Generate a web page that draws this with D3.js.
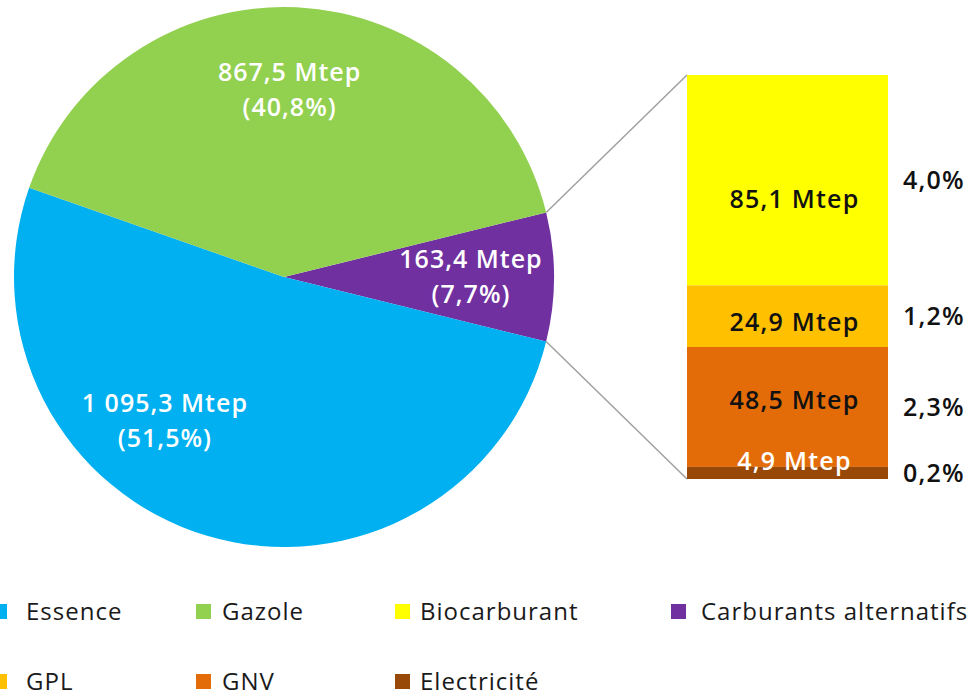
<!DOCTYPE html>
<html>
<head>
<meta charset="utf-8">
<script src="https://cdn.jsdelivr.net/npm/d3@7"></script>
<style>
  body { margin: 0; background: #fff; }
  svg { display: block; font-family: "Open Sans", sans-serif; }
</style>
</head>
<body>
<div id="chart"></div>
<script>
// pie : carburants alternatifs first so that it sits at 3 o'clock
var pieCategories = ["Carburants alternatifs", "Essence", "Gazole"];
var pieValues = [163.4, 1095.3, 867.5];

// detail of "carburants alternatifs", top to bottom
var barCategories = ["Biocarburant", "GPL", "GNV", "Electricité"];
var barValues = [85.1, 24.9, 48.5, 4.9];

var legendRow1 = ["Essence", "Gazole", "Biocarburant", "Carburants alternatifs"];
var legendRow2 = ["GPL", "GNV", "Electricité"];

var color = d3.scaleOrdinal()
    .domain(["Essence", "Gazole", "Biocarburant", "Carburants alternatifs", "GPL", "GNV", "Electricité"])
    .range(["#00b0f0", "#92d050", "#ffff00", "#7030a0", "#ffc000", "#e36c09", "#984807"]);

var fr = d3.formatLocale({ decimal: ",", thousands: " ", grouping: [3], currency: ["", " €"] });
var fmtVal = fr.format(",.1f"),
    fmtPct = fr.format(".1%");

function drawChart() {
    var width = 970, height = 700;
    var cx = 284, cy = 277, radius = 270;

    var svg = d3.select("#chart").append("svg")
        .attr("width", width)
        .attr("height", height);

    var total = d3.sum(pieValues);
    var start = Math.PI / 2 - pieValues[0] / total * Math.PI;

    var pie = d3.pie()
        .sort(null)
        .startAngle(start)
        .endAngle(start + 2 * Math.PI);
    var arcs = pie(pieValues);

    var arc = d3.arc().innerRadius(0).outerRadius(radius);

    function polar(a, r) {
        return [cx + r * Math.sin(a), cy - r * Math.cos(a)];
    }

    // bar of pie
    var barLeft = 687, barRight = 888, barTop = 75, barBottom = 479;
    var barTotal = d3.sum(barValues);
    var yBar = d3.scaleLinear().domain([0, barTotal]).range([barTop, barBottom]);
    var cum = Array.from(d3.cumsum(barValues));
    var barData = barValues.map(function (v, i) {
        return { cat: barCategories[i], value: v, y0: cum[i] - v, y1: cum[i] };
    });

    // connector lines
    var pA = polar(arcs[0].startAngle, radius),
        pB = polar(arcs[0].endAngle, radius);
    svg.append("line")
        .attr("x1", pA[0]).attr("y1", pA[1])
        .attr("x2", barLeft).attr("y2", yBar(0))
        .attr("stroke", "#a0a0a0").attr("stroke-width", 1.5);
    svg.append("line")
        .attr("x1", pB[0]).attr("y1", pB[1])
        .attr("x2", barLeft).attr("y2", yBar(barTotal))
        .attr("stroke", "#a0a0a0").attr("stroke-width", 1.5);

    svg.append("g")
        .attr("transform", "translate(" + cx + "," + cy + ")")
        .selectAll("path")
        .data(arcs)
        .enter().append("path")
        .attr("d", arc)
        .attr("fill", function (d, i) { return color(pieCategories[i]); });

    // pie labels
    var labelR = 187;
    var angleNudge = [0, 23 * Math.PI / 180, -1 * Math.PI / 180];
    arcs.forEach(function (d, i) {
        var p = polar((d.startAngle + d.endAngle) / 2 + angleNudge[i], labelR);
        var t = svg.append("text")
            .attr("text-anchor", "middle")
            .attr("fill", "#fff")
            .style("font-size", "25px")
            .style("font-weight", 600)
            .style("letter-spacing", "1px");
        t.append("tspan").attr("x", p[0]).attr("y", p[1] - 9.5)
            .text(fmtVal(d.data) + " Mtep");
        t.append("tspan").attr("x", p[0]).attr("y", p[1] + 25.5)
            .text("(" + fmtPct(d.data / total) + ")");
    });

    svg.selectAll(".seg")
        .data(barData)
        .enter().append("rect")
        .attr("class", "seg")
        .attr("x", barLeft)
        .attr("width", barRight - barLeft)
        .attr("y", function (d) { return yBar(d.y0); })
        .attr("height", function (d) { return yBar(d.y1) - yBar(d.y0); })
        .attr("fill", function (d) { return color(d.cat); });

    var labelDy = [19, 6, -7, -12];
    svg.selectAll(".seglab")
        .data(barData)
        .enter().append("text")
        .attr("class", "seglab")
        .attr("x", (barLeft + barRight) / 2 + 7)
        .attr("y", function (d, i) { return yBar((d.y0 + d.y1) / 2) + labelDy[i] + 9; })
        .attr("text-anchor", "middle")
        .attr("fill", function (d, i) { return i == barData.length - 1 ? "#fff" : "#111"; })
        .style("font-size", "25px")
        .style("font-weight", 600)
        .style("letter-spacing", "1.2px")
        .text(function (d) { return fmtVal(d.value) + " Mtep"; });

    svg.selectAll(".segpct")
        .data(barData)
        .enter().append("text")
        .attr("class", "segpct")
        .attr("x", 903)
        .attr("y", function (d) { return yBar((d.y0 + d.y1) / 2) + 9; })
        .attr("fill", "#111")
        .style("font-size", "25px")
        .style("font-weight", 600)
        .style("letter-spacing", "1.2px")
        .text(function (d) { return fmtPct(d.value / total); });

    // legend
    var colSquare = [-8, 196, 395, 671],
        colText = [26, 222, 420, 701];
    [legendRow1, legendRow2].forEach(function (row, r) {
        var yTop = 604 + r * 70;
        var g = svg.append("g");
        g.selectAll("rect")
            .data(row)
            .enter().append("rect")
            .attr("x", function (d, i) { return colSquare[i]; })
            .attr("y", yTop)
            .attr("width", 15)
            .attr("height", 15)
            .attr("fill", function (d) { return color(d); });
        g.selectAll("text")
            .data(row)
            .enter().append("text")
            .attr("x", function (d, i) { return colText[i]; })
            .attr("y", yTop + 16)
            .attr("fill", "#1a1a1a")
            .style("font-size", "24px")
            .style("letter-spacing", "1px")
            .text(function (d) { return d; });
    });
}

drawChart();
</script>
</body>
</html>
